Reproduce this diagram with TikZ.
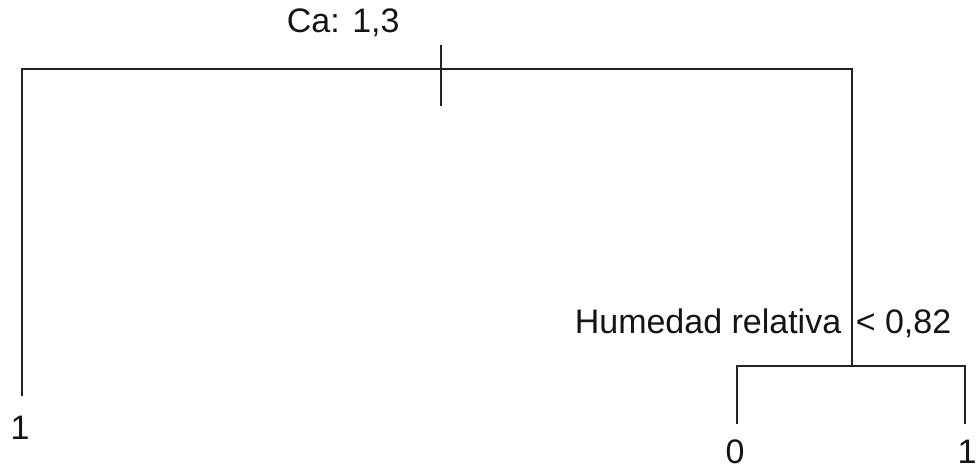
\documentclass[tikz,border=0pt]{standalone}
\usepackage{fontspec}
\setmainfont{Liberation Sans}
\usepackage{tikz}
\definecolor{branch}{RGB}{35, 35, 35}
\definecolor{label}{RGB}{20, 20, 20}

\begin{document}
\begin{tikzpicture}[x=1pt, y=-1pt, line width=1.6pt, branch,
  every node/.style={inner sep=0pt, text=label, font=\fontsize{34}{40}\selectfont}]

  \useasboundingbox (0, 0) rectangle (977, 470);

  % root split
  \coordinate (rootL) at (22, 69);
  \coordinate (rootR) at (852, 69);
  \coordinate (tickT) at (441, 45);
  \coordinate (tickB) at (441, 106);

  % right split
  \coordinate (split)  at (852, 366);
  \coordinate (splitL) at (737, 366);
  \coordinate (splitR) at (965, 366);

  % leaves
  \coordinate (leafA) at (22, 396);
  \coordinate (leafB) at (737, 424);
  \coordinate (leafC) at (965, 424);

  \draw (leafA) -- (rootL) -- (rootR) -- (split);
  \draw (tickT) -- (tickB);
  \draw (leafB) -- (splitL) -- (splitR) -- (leafC);

  \node[anchor=base west] (rootlab) at (286, 33) {Ca: 1,3};
  \node[anchor=base west] (splitvar) at (574, 334) {Humedad relativa};
  \node[anchor=base west] (splitval) at (855, 334) {< 0,82};

  \foreach \x/\y/\cls/\name in {20/439/1/labA, 735/463/0/labB, 967/463/1/labC} {
    \node[anchor=base] (\name) at (\x, \y) {\cls};
  }

\end{tikzpicture}
\end{document}
